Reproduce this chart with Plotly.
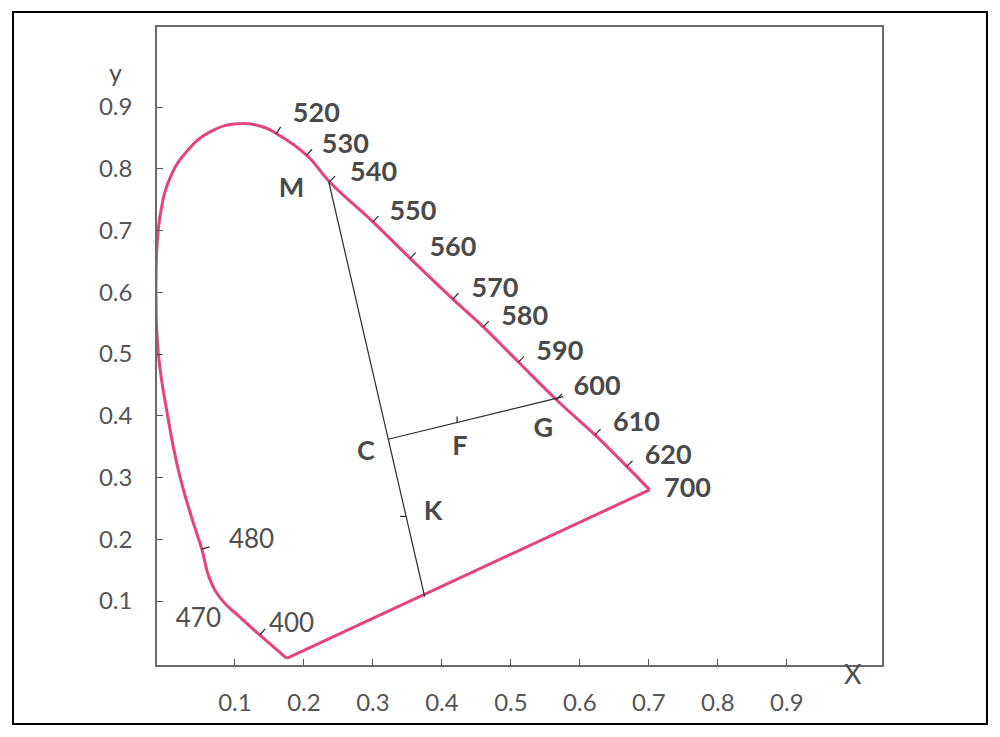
import numpy as np
import plotly.graph_objects as go

# spectral locus (drawn freehand in the original), from the 400 nm corner round to 700 nm
locus_x = [0.175, 0.136, 0.106, 0.080, 0.063, 0.052, 0.037, 0.018, 0.002, -0.011,
           -0.0145, -0.013, -0.008, 0.004, 0.030, 0.066, 0.105, 0.140,
           0.160, 0.204, 0.237, 0.300, 0.354, 0.416, 0.460, 0.511, 0.566, 0.622,
           0.668, 0.701]
locus_y = [0.007, 0.045, 0.075, 0.103, 0.137, 0.184, 0.236, 0.312, 0.403, 0.500,
           0.600, 0.675, 0.727, 0.780, 0.828, 0.861, 0.873, 0.868,
           0.857, 0.822, 0.779, 0.714, 0.655, 0.589, 0.544, 0.487, 0.426, 0.369,
           0.318, 0.280]

# wavelength marks on the locus and their labels
wl_bold = ['520', '530', '540', '550', '560', '570', '580', '590', '600', '610', '620', '700']
wl_bold_x = [0.218, 0.260, 0.301, 0.358, 0.416, 0.477, 0.520, 0.571, 0.625, 0.682, 0.728, 0.756]
wl_bold_y = [0.886, 0.836, 0.791, 0.728, 0.669, 0.604, 0.558, 0.502, 0.445, 0.386, 0.333, 0.280]
wl_light = ['480', '470', '400']
wl_light_x = [0.124, 0.047, 0.182]
wl_light_y = [0.196, 0.069, 0.060]

tick_wl = ['520', '530', '540', '550', '560', '570', '580', '590', '600', '610', '620', '480', '400']
tick_x = [0.160, 0.204, 0.237, 0.300, 0.354, 0.416, 0.460, 0.511, 0.566, 0.622, 0.668, 0.052, 0.136]
tick_y = [0.857, 0.822, 0.779, 0.714, 0.655, 0.589, 0.544, 0.487, 0.426, 0.369, 0.318, 0.184, 0.045]

# construction points
point_names = ['M', 'C', 'F', 'G', 'K']
point_label_x = [0.182, 0.290, 0.426, 0.547, 0.387]
point_label_y = [0.766, 0.339, 0.347, 0.377, 0.242]
M = (0.236, 0.779)
K_end = (0.375, 0.107)
C = (0.322, 0.362)
G_end = (0.576, 0.431)
F_x = 0.422
K_y = 0.237

axis_ticks = [0.1, 0.2, 0.3, 0.4, 0.5, 0.6, 0.7, 0.8, 0.9]
axis_ticktext = ['0.1', '0.2', '0.3', '0.4', '0.5', '0.6', '0.7', '0.8', '0.9']

x_range = [-0.013, 1.038]
y_range = [-0.0036, 1.0296]
W, H = 1000, 737
# page body has an 8px margin, so pull the figure back up/left
margin = dict(l=149, r=126, t=19, b=80)
px_per_x = (W - margin['l'] - margin['r']) / (x_range[1] - x_range[0])
px_per_y = (H - margin['t'] - margin['b']) / (y_range[1] - y_range[0])

pink = '#e6427f'
ink = '#2b2b2b'
label_grey = '#4a4a4a'
font_family = 'Lato'

fig = go.Figure()

# locus and the purple line
fig.add_trace(go.Scatter(x=locus_x, y=locus_y, mode='lines',
                         line=dict(color=pink, width=3, shape='spline', smoothing=1.3),
                         hoverinfo='skip'))
fig.add_trace(go.Scatter(x=[locus_x[-1], locus_x[0]], y=[locus_y[-1], locus_y[0]], mode='lines',
                         line=dict(color=pink, width=3), hoverinfo='skip'))


def offset(x, y, ux, uy, length):
    return x + ux * length / px_per_x, y + uy * length / px_per_y


# little wavelength ticks, normal to the locus, pointing at the label side
lx = np.array(locus_x) * px_per_x
ly = np.array(locus_y) * px_per_y
label_pos = dict(zip(wl_bold + wl_light, zip(wl_bold_x + wl_light_x, wl_bold_y + wl_light_y)))
tx, ty = [], []
for w, x, y in zip(tick_wl, tick_x, tick_y):
    i = int(np.argmin((lx - x * px_per_x) ** 2 + (ly - y * px_per_y) ** 2))
    i0, i1 = max(i - 1, 0), min(i + 1, len(lx) - 1)
    dx, dy = lx[i1] - lx[i0], ly[i1] - ly[i0]
    n = np.hypot(dx, dy)
    nx, ny = dy / n, -dx / n
    lab = label_pos[w]
    if nx * (lab[0] - x) * px_per_x + ny * (lab[1] - y) * px_per_y < 0:
        nx, ny = -nx, -ny
    x1, y1 = offset(x, y, nx, ny, 8)
    tx += [x, x1, None]
    ty += [y, y1, None]
fig.add_trace(go.Scatter(x=tx, y=ty, mode='lines', line=dict(color=ink, width=1.2),
                         hoverinfo='skip'))

# construction lines M-K and C-G
fig.add_trace(go.Scatter(x=[M[0], K_end[0]], y=[M[1], K_end[1]], mode='lines',
                         line=dict(color=ink, width=1.2), hoverinfo='skip'))
fig.add_trace(go.Scatter(x=[C[0], G_end[0]], y=[C[1], G_end[1]], mode='lines',
                         line=dict(color=ink, width=1.2), hoverinfo='skip'))

# tick for F on C-G and for K on M-K
F_y = C[1] + (F_x - C[0]) * (G_end[1] - C[1]) / (G_end[0] - C[0])
K_x = M[0] + (K_y - M[1]) * (K_end[0] - M[0]) / (K_end[1] - M[1])
fx1, fy1 = offset(F_x, F_y, 0, 1, 6)
kx1, ky1 = offset(K_x, K_y, -1, 0, 6)
fig.add_trace(go.Scatter(x=[F_x, fx1, None, K_x, kx1], y=[F_y, fy1, None, K_y, ky1], mode='lines',
                         line=dict(color=ink, width=1.2), hoverinfo='skip'))

# labels
fig.add_trace(go.Scatter(x=wl_bold_x, y=wl_bold_y, mode='text', text=wl_bold,
                         textfont=dict(family=font_family, size=27, color=label_grey, weight='bold'),
                         hoverinfo='skip'))
fig.add_trace(go.Scatter(x=point_label_x, y=point_label_y, mode='text', text=point_names,
                         textfont=dict(family=font_family, size=27, color=label_grey, weight='bold'),
                         hoverinfo='skip'))
fig.add_trace(go.Scatter(x=wl_light_x, y=wl_light_y, mode='text', text=wl_light,
                         textfont=dict(family=font_family, size=26, color='#505050'),
                         hoverinfo='skip'))

axis_common = dict(
    showgrid=False, zeroline=False, showline=True, linecolor='#6a6a6a', linewidth=1.5, mirror=True,
    ticks='inside', ticklen=6, tickwidth=1.3, tickcolor='#555555',
    tickfont=dict(family=font_family, size=24, color='#555555'),
    tickvals=axis_ticks, ticktext=axis_ticktext,
)

fig.update_layout(
    width=W, height=H, autosize=False,
    margin=margin,
    paper_bgcolor='white', plot_bgcolor='white',
    showlegend=False,
    xaxis=dict(range=x_range, ticklabelstandoff=15, **axis_common),
    yaxis=dict(range=y_range, ticklabelstandoff=18, **axis_common),
)

# axis names
fig.add_annotation(text='y', xref='paper', yref='paper', x=-0.069, y=0.956, showarrow=False,
                   font=dict(family=font_family, size=25, color='#505050'))
fig.add_annotation(text='X', xref='paper', yref='paper', x=0.975, y=-0.042, showarrow=False,
                   font=dict(family=font_family, size=27, color='#505050'))

# outer black frame
fig.add_shape(type='rect', xref='paper', yref='paper', x0=-0.1986, x1=1.1448, y0=-0.0925, y1=1.0235,
              line=dict(color='black', width=2))

fig.write_html('out.html')
